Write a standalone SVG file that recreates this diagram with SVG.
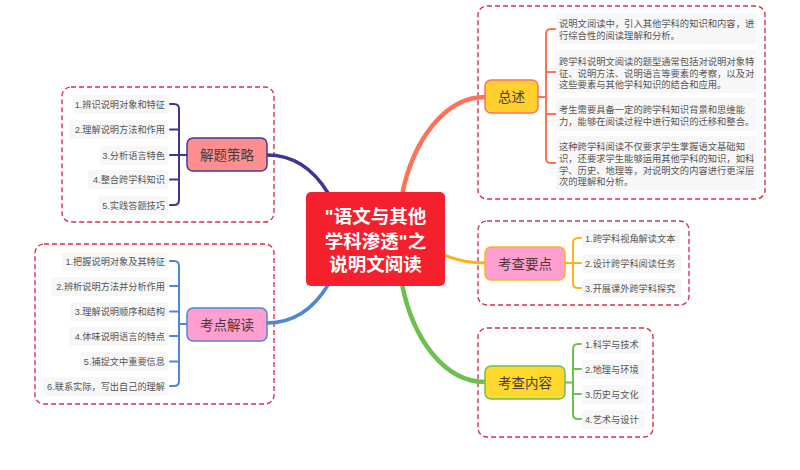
<svg xmlns="http://www.w3.org/2000/svg" width="800" height="470" viewBox="0 0 800 470">
<style>
text{font-family:"Liberation Sans","Noto Sans CJK SC",sans-serif}
.box{fill:none;stroke:#d8314f;stroke-width:1.4;stroke-dasharray:5 3}
.bg{fill:#f7f7f7}
.t{font-size:9.2px;fill:#555}
.e{text-anchor:end}
.p{font-size:9.3px;fill:#555}
.n{stroke-width:1.5}
.nt{font-size:13.5px;fill:#4a3a3a;text-anchor:middle}
.c{fill:none;stroke-linecap:round;stroke-linejoin:round}
.ct{font-size:18.5px;font-weight:700;fill:#fff;text-anchor:middle}
</style>
<rect width="800" height="470" fill="#fff"/>
<g id="boxes">
<rect class="box" x="62" y="87" width="212" height="135" rx="9"/>
<rect class="box" x="35" y="244" width="239" height="160" rx="9"/>
<rect class="box" x="478" y="6" width="287" height="193" rx="9"/>
<rect class="box" x="478" y="221" width="211" height="84" rx="9"/>
<rect class="box" x="478" y="328" width="175" height="109" rx="9"/>
</g>
<g id="connectors" class="c">
<path stroke="#3f3594" stroke-width="3.5" fill="none" d="M267,155C295,155 314,170 328,193"/>
<path stroke="#4f86d6" stroke-width="3.5" fill="none" d="M267,323C295,323 314,308 328,285"/>
<path stroke="#ff7159" stroke-width="4.5" fill="none" d="M402,195C413,140 445,97 485,97"/>
<path stroke="#ffb21a" stroke-width="3" fill="none" d="M444,255C460,261 470,263 485,263"/>
<path stroke="#6cc04f" stroke-width="4.5" fill="none" d="M402,284C413,340 445,382 485,382"/>
<g stroke-width="2">
<path stroke="#3f3594" fill="none" d="M187,155H179M170,104H174Q179,104 179,109V200Q179,205 174,205H170M170,129.500H179M170,155H179M170,179.500H179"/>
<path stroke="#4f86d6" fill="none" d="M187,324H179M170,261H174Q179,261 179,266V381Q179,386 174,386H170M170,286H179M170,311.500H179M170,336H179M170,361.500H179"/>
<path stroke="#ff7159" fill="none" d="M538,97H546M556,29H551Q546,29 546,34V158Q546,163 551,163H556M556,72H546M556,114H546"/>
<path stroke="#ffb21a" fill="none" d="M565,263H581M581,238H578Q573,238 573,243V283Q573,288 578,288H581"/>
<path stroke="#6cc04f" fill="none" d="M565,382.500H573M581,344H578Q573,344 573,349V414Q573,419 578,419H581M581,369H573M581,394H573"/>
</g>
</g>
<g id="center">
<rect x="306" y="192" width="139" height="94" rx="5" fill="#f5202e"/>
<text class="ct" x="375.500" y="223">"语文与其他</text>
<text class="ct" x="375.500" y="248">学科渗透"之</text>
<text class="ct" x="375.500" y="271">说明文阅读</text>
</g>
<g id="node-jieti">
<rect class="n" x="187" y="138" width="80" height="33" rx="6" fill="#ff8f8f" stroke="#46389a"/>
<text class="nt" x="227" y="159.500">解题策略</text>
</g>
<g id="jieti-items">
<rect class="bg" x="73" y="95" width="95" height="19" rx="3"/>
<rect class="bg" x="69" y="120" width="99" height="19" rx="3"/>
<rect class="bg" x="100" y="146" width="68" height="19" rx="3"/>
<rect class="bg" x="88" y="170" width="80" height="19" rx="3"/>
<rect class="bg" x="98" y="196" width="70" height="19" rx="3"/>
<text class="t e" x="165" y="108">1.辨识说明对象和特征</text>
<text class="t e" x="165" y="133">2.理解说明方法和作用</text>
<text class="t e" x="165" y="158.500">3.分析语言特色</text>
<text class="t e" x="165" y="183">4.整合跨学科知识</text>
<text class="t e" x="165" y="208.500">5.实践答题技巧</text>
</g>
<g id="node-kaodian">
<rect class="n" x="187" y="308" width="80" height="33" rx="6" fill="#ff9fd0" stroke="#4f86d6"/>
<text class="nt" x="227" y="329.500">考点解读</text>
</g>
<g id="kaodian-items">
<rect class="bg" x="62" y="252" width="106" height="19" rx="3"/>
<rect class="bg" x="51" y="277" width="117" height="19" rx="3"/>
<rect class="bg" x="70" y="302" width="98" height="19" rx="3"/>
<rect class="bg" x="69" y="327" width="99" height="19" rx="3"/>
<rect class="bg" x="80" y="352" width="88" height="19" rx="3"/>
<rect class="bg" x="43" y="377" width="125" height="19" rx="3"/>
<text class="t e" x="165" y="265">1.把握说明对象及其特征</text>
<text class="t e" x="165" y="290">2.辨析说明方法并分析作用</text>
<text class="t e" x="165" y="315">3.理解说明顺序和结构</text>
<text class="t e" x="165" y="340">4.体味说明语言的特点</text>
<text class="t e" x="165" y="365">5.捕捉文中重要信息</text>
<text class="t e" x="165" y="390">6.联系实际，写出自己的理解</text>
</g>
<g id="node-zongshu">
<rect class="n" x="485" y="80" width="53" height="33" rx="6" fill="#ffd02e" stroke="#ff7159"/>
<text class="nt" x="511.500" y="101.500">总述</text>
</g>
<g id="zongshu-items">
<rect class="bg" x="556" y="13" width="201" height="31" rx="3"/>
<rect class="bg" x="556" y="50" width="201" height="43" rx="3"/>
<rect class="bg" x="556" y="98" width="201" height="33" rx="3"/>
<rect class="bg" x="556" y="136" width="201" height="54" rx="3"/>
<text class="p" x="559" y="26.500">说明文阅读中，引入其他学科的知识和内容，进</text>
<text class="p" x="559" y="38.500">行综合性的阅读理解和分析。</text>
<text class="p" x="559" y="64.500">跨学科说明文阅读的题型通常包括对说明对象特</text>
<text class="p" x="559" y="76.500">征、说明方法、说明语言等要素的考察，以及对</text>
<text class="p" x="559" y="88">这些要素与其他学科知识的结合和应用。</text>
<text class="p" x="559" y="112.500">考生需要具备一定的跨学科知识背景和思维能</text>
<text class="p" x="559" y="124.500">力，能够在阅读过程中进行知识的迁移和整合。</text>
<text class="p" x="559" y="149.500">这种跨学科阅读不仅要求学生掌握语文基础知</text>
<text class="p" x="559" y="161.500">识，还要求学生能够运用其他学科的知识，如科</text>
<text class="p" x="559" y="173.500">学、历史、地理等，对说明文的内容进行更深层</text>
<text class="p" x="559" y="185">次的理解和分析。</text>
</g>
<g id="node-yaodian">
<rect class="n" x="485" y="247" width="80" height="33" rx="6" fill="#ff9fd0" stroke="#ffb21a"/>
<text class="nt" x="525" y="268.500">考查要点</text>
</g>
<g id="yaodian-items">
<rect class="bg" x="582" y="229" width="98" height="19" rx="3"/>
<rect class="bg" x="582" y="254" width="100" height="19" rx="3"/>
<rect class="bg" x="582" y="279" width="100" height="19" rx="3"/>
<text class="t" x="585" y="242">1.跨学科视角解读文本</text>
<text class="t" x="585" y="267">2.设计跨学科阅读任务</text>
<text class="t" x="585" y="292">3.开展课外跨学科探究</text>
</g>
<g id="node-neirong">
<rect class="n" x="485" y="366" width="80" height="33" rx="6" fill="#ffd82e" stroke="#6cc04f"/>
<text class="nt" x="525" y="387.500">考查内容</text>
</g>
<g id="neirong-items">
<rect class="bg" x="582" y="335" width="60" height="19" rx="3"/>
<rect class="bg" x="582" y="360" width="63" height="19" rx="3"/>
<rect class="bg" x="582" y="385" width="63" height="19" rx="3"/>
<rect class="bg" x="582" y="410" width="63" height="19" rx="3"/>
<text class="t" x="585" y="348">1.科学与技术</text>
<text class="t" x="585" y="373">2.地理与环境</text>
<text class="t" x="585" y="398">3.历史与文化</text>
<text class="t" x="585" y="423">4.艺术与设计</text>
</g>
</svg>
